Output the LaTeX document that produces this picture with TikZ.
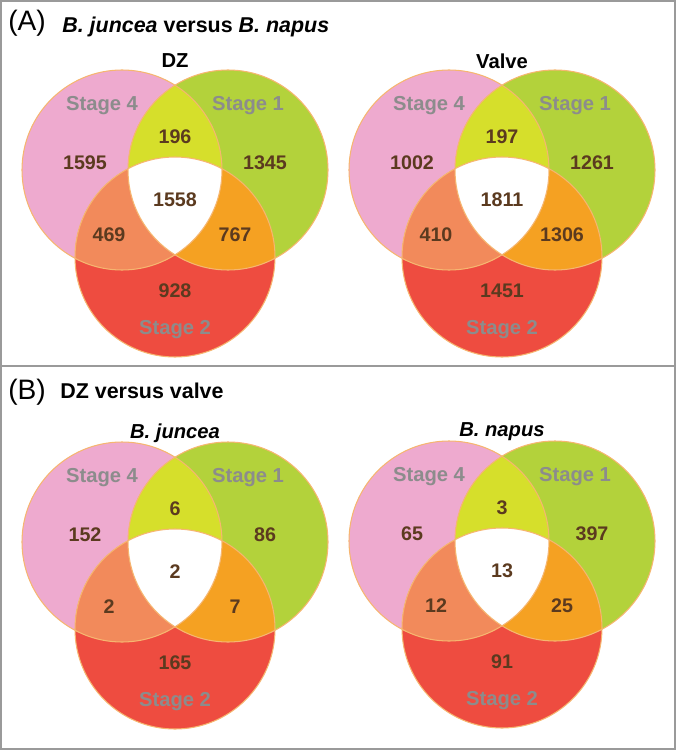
\documentclass[tikz,border=0pt]{standalone}
\usepackage{fontspec}
\setmainfont{Liberation Sans}
\usepackage{tikz}

\definecolor{stpink}{HTML}{EEAACF}
\definecolor{stgreen}{HTML}{B3D23B}
\definecolor{stred}{HTML}{EE4C40}
\definecolor{styellow}{HTML}{D6DF2B}
\definecolor{storange}{HTML}{F5A122}
\definecolor{stsalmon}{HTML}{F28A5B}
\definecolor{rimcol}{HTML}{F6B670}
\definecolor{numcol}{HTML}{5B3A1F}
\definecolor{stagecol}{HTML}{8C8C8C}
\definecolor{framecol}{HTML}{9A9A9A}

\begin{document}
\begin{tikzpicture}[
  x=0.02cm,y=0.02cm,
  frame/.style={draw=framecol,line width=1.1pt},
  rim/.style={draw=rimcol,line width=0.6pt},
  num/.style={inner sep=0pt,text=numcol,font=\bfseries\fontsize{11.2}{13}\selectfont},
  stagelabel/.style={inner sep=0pt,text=stagecol,font=\bfseries\fontsize{11.5}{13}\selectfont},
  head/.style={inner sep=0pt,font=\bfseries\fontsize{11.5}{13}\selectfont},
  paneltitle/.style={inner sep=0pt,anchor=west,font=\bfseries\fontsize{12.2}{14}\selectfont},
  panel/.style={inner sep=0pt,anchor=west,font=\fontsize{16}{18}\selectfont}
]
  \useasboundingbox (0,0) rectangle (677,-750);

  % Outer frame and the line between the two panels.
  \draw[frame] (1,-1) rectangle (675,-749);
  \draw[frame] (1,-366) -- (675,-366);

  % Panel headings.
  \node[panel] (pA) at (8,-23) {(A)};
  \node[paneltitle] (tA) at (62,-27) {\textit{B. juncea} versus \textit{B. napus}};
  \node[panel] (pB) at (8,-392) {(B)};
  \node[paneltitle] (tB) at (60,-391) {DZ versus valve};

  % One Venn diagram per entry: centre x, top y, name, title, then the
  % counts 4 only / 1 only / 4+1 / all / 4+2 / 1+2 / 2 only.
  \foreach \cx/\ty/\id/\ttl/\na/\nb/\nab/\nabc/\nac/\nbc/\nc in {
      175/70/dz/{DZ}/1595/1345/196/1558/469/767/928,
      502/70/valve/{Valve}/1002/1261/197/1811/410/1306/1451,
      175/442/bj/{\textit{B. juncea}}/152/86/6/2/2/7/165,
      502/441/bn/{\textit{B. napus}}/65/397/3/13/12/25/91}
  {
    \coordinate (\id-a) at ({\cx-53},{-\ty-100});
    \coordinate (\id-b) at ({\cx+53},{-\ty-100});
    \coordinate (\id-c) at ({\cx},{-\ty-187});

    \fill[stpink] (\id-a) circle[radius=100];
    \fill[stgreen] (\id-b) circle[radius=100];
    \fill[stred] (\id-c) circle[radius=100];
    \begin{scope}
      \clip (\id-b) circle[radius=100];
      \fill[storange] (\id-c) circle[radius=100];
    \end{scope}
    \begin{scope}
      \clip (\id-a) circle[radius=100];
      \fill[styellow] (\id-b) circle[radius=100];
      \fill[stsalmon] (\id-c) circle[radius=100];
      \clip (\id-b) circle[radius=100];
      \fill[white] (\id-c) circle[radius=100];
    \end{scope}
    \foreach \k in {a,b,c}
      \draw[rim] (\id-\k) circle[radius=100];

    \node[head] (\id-title) at ({\cx},{-\ty+9}) {\ttl};
    \node[stagelabel] (\id-s4) at ({\cx-73},{-\ty-36}) {Stage 4};
    \node[stagelabel] (\id-s1) at ({\cx+73},{-\ty-36}) {Stage 1};
    \node[stagelabel] (\id-s2) at ({\cx},{-\ty-260}) {Stage 2};

    \node[num] (\id-na) at ({\cx-90},{-\ty-93}) {\na};
    \node[num] (\id-nb) at ({\cx+90},{-\ty-93}) {\nb};
    \node[num] (\id-nab) at ({\cx},{-\ty-67}) {\nab};
    \node[num] (\id-nabc) at ({\cx},{-\ty-130}) {\nabc};
    \node[num] (\id-nac) at ({\cx-66},{-\ty-165}) {\nac};
    \node[num] (\id-nbc) at ({\cx+60},{-\ty-165}) {\nbc};
    \node[num] (\id-nc) at ({\cx},{-\ty-221}) {\nc};
  }
\end{tikzpicture}
\end{document}
